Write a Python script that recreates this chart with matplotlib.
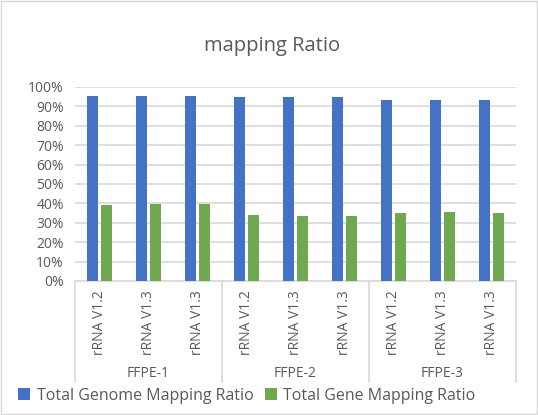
import numpy as np
import matplotlib
matplotlib.use('Agg')
import matplotlib.pyplot as plt
from matplotlib.patches import Rectangle

plt.rcParams['font.family'] = ['Open Sans', 'DejaVu Sans']

groups = ['FFPE-1', 'FFPE-2', 'FFPE-3']
samples = ['rRNA V1.2', 'rRNA V1.3', 'rRNA V1.3']
genome_ratio = [0.952, 0.952, 0.952, 0.947, 0.947, 0.947, 0.931, 0.931, 0.931]
gene_ratio = [0.393, 0.398, 0.398, 0.341, 0.336, 0.336, 0.352, 0.357, 0.352]

blue = '#4472C4'
green = '#70A851'
grey = '#595959'
gridc = '#D9D9D9'

fig = plt.figure(figsize=(5.38, 4.15), dpi=100)
ax = fig.add_axes([0.1394, 0.3229, 0.8196, 0.4675])

n = len(genome_ratio)
x = np.arange(n)
w = 0.23
ax.bar(x - 0.14, genome_ratio, w, color=blue, label='Total Genome Mapping Ratio', zorder=3)
ax.bar(x + 0.14, gene_ratio, w, color=green, label='Total Gene Mapping Ratio', zorder=3)

ax.set_xlim(-0.5, n - 0.5)
ax.set_ylim(0, 1)
ax.set_yticks(np.arange(0, 1.01, 0.1))
ax.set_yticklabels(['%d%%' % round(v * 100) for v in np.arange(0, 1.01, 0.1)],
                   fontsize=10, color=grey)
ax.yaxis.grid(True, color=gridc, linewidth=1.2, zorder=0)
ax.tick_params(axis='y', length=0, pad=8)
for s in ['top', 'right', 'left']:
    ax.spines[s].set_visible(False)
ax.spines['bottom'].set_color(gridc)
ax.spines['bottom'].set_linewidth(1.2)

ax.set_xticks(x)
ax.set_xticklabels(samples * len(groups), rotation=90, fontsize=10, color=grey, va='top')
ax.tick_params(axis='x', length=0, pad=7)

trans = ax.get_xaxis_transform()
for i in range(len(groups) + 1):
    xb = i * len(samples) - 0.5
    ax.plot([xb, xb], [0, -0.52], color=gridc, lw=1.2, transform=trans, clip_on=False)
for i, g in enumerate(groups):
    xc = i * len(samples) + (len(samples) - 1) / 2
    ax.text(xc, -0.475, g, transform=trans, ha='center', va='center', fontsize=10, color=grey)

fig.text(0.506, 0.89, 'mapping Ratio', ha='center', va='center', fontsize=14.5, color=grey)

leg = fig.legend(loc='center', bbox_to_anchor=(0.459, 0.046), ncol=2, frameon=False,
                 fontsize=11.5, handlelength=0.75, handleheight=0.75, handletextpad=0.4,
                 columnspacing=0.7)
for t in leg.get_texts():
    t.set_color(grey)

fig.patches.append(Rectangle((0.002, 0.002), 0.996, 0.996, transform=fig.transFigure,
                             fill=False, edgecolor=gridc, linewidth=1))

fig.savefig('out.png', dpi=100)
